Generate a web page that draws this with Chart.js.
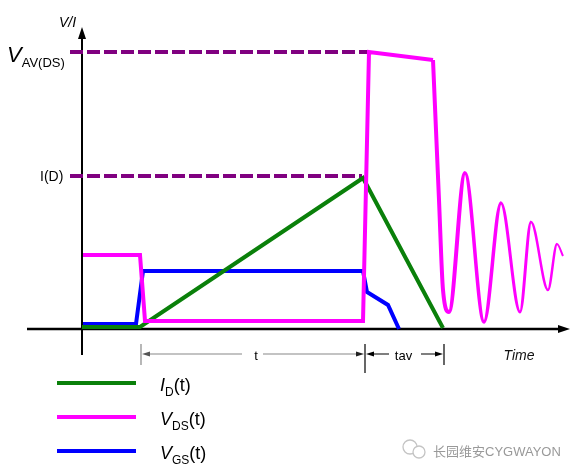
<!DOCTYPE html>
<html lang="en">
<head>
<meta charset="UTF-8">
<title>Avalanche waveforms</title>
<script src="https://cdn.jsdelivr.net/npm/chart.js"></script>
<style>
  html, body { margin: 0; padding: 0; background: #fff; }
  #wrap { position: relative; width: 582px; height: 475px; }
</style>
</head>
<body>
<div id="wrap"><canvas id="c" width="582" height="475"></canvas></div>
<script>
  // time runs from the origin, levels are measured above the baseline
  const vavLevel = 277;
  const idLevel = 153;
  const dashFrom = -12;
  const vavDashTo = 286;
  const idDashTo = 280;

  const idTime = [0, 58, 281, 361];
  const idVals = [2, 2, 151, 1];

  const vdsTime = [1, 58, 63, 281, 287, 351];
  const vdsVals = [74, 74, 8, 8, 277, 269];

  // ringing after the avalanche
  const ringTime = [351, 357, 361, 367, 383, 402, 419, 438, 449, 466, 475, 481];
  const ringVals = [269, 129, 39, 17, 156, 7, 126, 17, 107, 39, 85, 73];
  const ringWidth = [4, 4, 4, 4, 3.5, 3.5, 3, 3, 2.5, 2.5, 2];

  const vgsTime = [1, 54, 61, 281, 285, 306, 317];
  const vgsVals = [5, 5, 58, 58, 37, 24, 0];

  const tStart = 59, tEnd = 283, tavEnd = 362;

  const pts = (xs, ys) => xs.map((t, i) => ({ x: t, y: ys[i] }));

  const GREEN = '#0a800a', MAGENTA = '#ff00ff', BLUE = '#0000ff', PURPLE = '#800080';

  function sub(ctx, x, y, main, mainFont, small, smallFont, rest, drop) {
    ctx.font = mainFont;
    ctx.fillText(main, x, y);
    x += ctx.measureText(main).width;
    ctx.font = smallFont;
    ctx.fillText(small, x, y + drop);
    x += ctx.measureText(small).width;
    if (rest) {
      ctx.font = mainFont.replace('italic ', '');
      ctx.fillText(rest, x, y);
    }
  }

  function arrowHead(ctx, x, y, dir, len, half) {
    ctx.beginPath();
    ctx.moveTo(x, y);
    ctx.lineTo(x - dir * len, y - half);
    ctx.lineTo(x - dir * len, y + half);
    ctx.closePath();
    ctx.fill();
  }

  const sketch = {
    id: 'sketch',
    beforeDatasetsDraw(chart) {
      const { ctx, scales: { x, y } } = chart;
      const ox = x.getPixelForValue(0), oy = y.getPixelForValue(0);
      ctx.save();
      ctx.strokeStyle = '#000';
      ctx.fillStyle = '#000';
      // vertical axis
      ctx.lineWidth = 2;
      ctx.beginPath();
      ctx.moveTo(ox, oy + 26);
      ctx.lineTo(ox, y.getPixelForValue(292));
      ctx.stroke();
      ctx.beginPath();
      ctx.moveTo(ox, y.getPixelForValue(302));
      ctx.lineTo(ox - 4, y.getPixelForValue(290));
      ctx.lineTo(ox + 4, y.getPixelForValue(290));
      ctx.closePath();
      ctx.fill();
      // horizontal axis
      ctx.lineWidth = 2.5;
      ctx.beginPath();
      ctx.moveTo(x.getPixelForValue(-55), oy);
      ctx.lineTo(x.getPixelForValue(480), oy);
      ctx.stroke();
      arrowHead(ctx, x.getPixelForValue(488), oy, 1, 12, 4);
      ctx.restore();
    },
    afterDatasetsDraw(chart) {
      const { ctx, scales: { x, y } } = chart;
      const oy = y.getPixelForValue(0);
      const dy = oy + 25;
      const p0 = x.getPixelForValue(tStart), p1 = x.getPixelForValue(tEnd), p2 = x.getPixelForValue(tavEnd);
      ctx.save();
      // dimension ticks
      ctx.lineWidth = 1.2;
      ctx.strokeStyle = '#888';
      ctx.beginPath(); ctx.moveTo(p0, oy + 15); ctx.lineTo(p0, oy + 36); ctx.stroke();
      ctx.strokeStyle = '#000';
      ctx.beginPath(); ctx.moveTo(p1, oy + 15); ctx.lineTo(p1, oy + 44); ctx.stroke();
      ctx.beginPath(); ctx.moveTo(p2, oy + 15); ctx.lineTo(p2, oy + 36); ctx.stroke();
      // t span
      ctx.strokeStyle = '#888';
      ctx.fillStyle = '#555';
      ctx.beginPath(); ctx.moveTo(p0 + 6, dy); ctx.lineTo(p0 + 101, dy);
      ctx.moveTo(p0 + 122, dy); ctx.lineTo(p1 - 6, dy); ctx.stroke();
      arrowHead(ctx, p0 + 1, dy, -1, 8, 2.5);
      ctx.fillStyle = '#222';
      arrowHead(ctx, p1 - 1, dy, 1, 8, 2.5);
      // tav span
      ctx.strokeStyle = '#000';
      ctx.fillStyle = '#000';
      ctx.beginPath(); ctx.moveTo(p1 + 6, dy); ctx.lineTo(p1 + 24, dy);
      ctx.moveTo(p2 - 23, dy); ctx.lineTo(p2 - 6, dy); ctx.stroke();
      arrowHead(ctx, p1 + 1, dy, -1, 8, 2.5);
      arrowHead(ctx, p2 - 1, dy, 1, 8, 2.5);

      // labels
      ctx.fillStyle = '#000';
      ctx.textBaseline = 'alphabetic';
      ctx.textAlign = 'center';
      ctx.font = '13px "Liberation Sans", Arial, sans-serif';
      ctx.fillText('t', (p0 + p1) / 2 + 3, oy + 31);
      ctx.fillText('tav', (p1 + p2) / 2 - 1, oy + 31);
      ctx.font = 'italic 14px "Liberation Sans", Arial, sans-serif';
      ctx.fillStyle = '#111';
      ctx.fillText('Time', 519, oy + 31);
      ctx.textAlign = 'left';
      ctx.fillStyle = '#000';
      ctx.font = 'italic 14px "Liberation Sans", Arial, sans-serif';
      ctx.fillText('V/I', 59, 27);
      sub(ctx, 7, y.getPixelForValue(vavLevel) + 10, 'V', 'italic 22px "Liberation Sans", Arial, sans-serif',
          'AV(DS)', '13px "Liberation Sans", Arial, sans-serif', '', 5);
      ctx.font = '14px "Liberation Sans", Arial, sans-serif';
      ctx.fillText('I(D)', 40, y.getPixelForValue(idLevel) + 5);

      // legend
      const rows = [
        { c: GREEN, m: 'I', s: 'D', base: 391 },
        { c: MAGENTA, m: 'V', s: 'DS', base: 425 },
        { c: BLUE, m: 'V', s: 'GS', base: 459 }
      ];
      rows.forEach(r => {
        ctx.fillStyle = r.c;
        ctx.fillRect(57, r.base - 10, 79, 4);
        ctx.fillStyle = '#000';
        sub(ctx, 160, r.base, r.m, 'italic 18px "Liberation Sans", Arial, sans-serif',
            r.s, '12px "Liberation Sans", Arial, sans-serif', '(t)', 5);
      });

      // watermark
      ctx.strokeStyle = '#c4c4c4';
      ctx.lineWidth = 1.3;
      ctx.beginPath(); ctx.arc(410, 447, 7, 0, Math.PI * 2); ctx.stroke();
      ctx.fillStyle = '#fff';
      ctx.beginPath(); ctx.arc(419, 452, 6, 0, Math.PI * 2); ctx.fill(); ctx.stroke();
      ctx.fillStyle = '#999';
      ctx.font = '13px "Noto Sans CJK SC", "Liberation Sans", sans-serif';
      ctx.fillText('长园维安', 433, 456);
      ctx.font = '13px "Liberation Sans", Arial, sans-serif';
      ctx.fillText('CYGWAYON', 433 + 52, 456);
      ctx.restore();
    }
  };

  new Chart(document.getElementById('c'), {
    type: 'scatter',
    data: {
      datasets: [
        { data: pts(vdsTime, vdsVals), borderColor: MAGENTA, borderWidth: 4, showLine: true },
        { data: pts(ringTime, ringVals), borderColor: MAGENTA, borderWidth: 4, showLine: true,
          cubicInterpolationMode: 'monotone',
          segment: { borderWidth: c => ringWidth[c.p0DataIndex] } },
        { data: pts(idTime, idVals), borderColor: GREEN, borderWidth: 4, showLine: true },
        { data: pts(vgsTime, vgsVals), borderColor: BLUE, borderWidth: 4, showLine: true },
        { data: [{ x: dashFrom, y: vavLevel }, { x: vavDashTo, y: vavLevel }], borderColor: PURPLE,
          borderWidth: 4, borderDash: [13, 4], showLine: true },
        { data: [{ x: dashFrom, y: idLevel }, { x: idDashTo, y: idLevel }], borderColor: PURPLE,
          borderWidth: 4, borderDash: [13, 4], showLine: true }
      ]
    },
    options: {
      responsive: false,
      animation: false,
      clip: false,
      layout: { padding: 0 },
      elements: { point: { radius: 0, hoverRadius: 0 }, line: { borderJoinStyle: 'miter', fill: false } },
      scales: {
        x: { type: 'linear', min: -82, max: 500, display: false },
        y: { type: 'linear', min: -146, max: 329, display: false }
      },
      plugins: { legend: { display: false }, tooltip: { enabled: false } },
      events: []
    },
    plugins: [sketch]
  });
</script>
</body>
</html>
